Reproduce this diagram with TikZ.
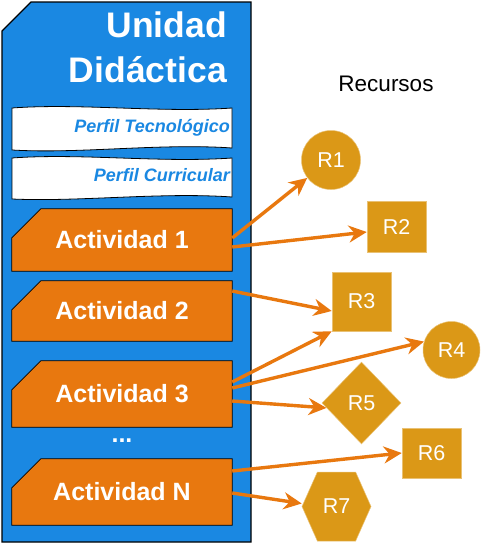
\documentclass[tikz,border=0pt]{standalone}
\usepackage{fontspec}
\setmainfont{Liberation Sans}
\usetikzlibrary{shapes.geometric,shapes.symbols,arrows.meta}
\definecolor{azulud}{RGB}{26,136,226}
\definecolor{naranja}{RGB}{232,120,15}
\definecolor{dorado}{RGB}{219,152,23}
\tikzset{
  actividad/.style={rectangle, inner sep=0pt, minimum width=220pt},
  actborde/.style={draw=black, line width=0.8pt, fill=naranja},
  acttexto/.style={text=white, inner sep=0pt, font=\bfseries\fontsize{25}{30}\selectfont},
  perfil/.style={draw=black, line width=0.8pt, fill=white},
  perfiltexto/.style={anchor=base east, inner sep=0pt, text=azulud,
    font=\bfseries\itshape\fontsize{18}{20}\selectfont},
  recurso/.style={fill=dorado, draw=dorado!60!white, line width=0.5pt, text=white,
    inner sep=0pt, font=\fontsize{21.5}{26}\selectfont},
  enlace/.style={draw=naranja, line width=3.4pt, -{Stealth[length=18pt,width=17pt]}}
}
\newcommand\cajaact[1]{\filldraw[actborde] (#1.south west) -- ([yshift=-29pt]#1.north west)
  -- ([xshift=29pt]#1.north west) -- (#1.north east) -- (#1.south east) -- cycle;}
\begin{document}
\begin{tikzpicture}[x=1pt,y=-1pt]
\useasboundingbox (0,0) rectangle (483,546);
\filldraw[draw=black, line width=1.4pt, fill=azulud] (2,542) -- (2,31) -- (31,2)
  -- (251,2) -- (251,542) -- cycle;
\node[anchor=north east, inner sep=0pt, align=right, text=white,
  font=\bfseries\fontsize{35.5}{45}\selectfont] (titulo) at (227,12) {Unidad\\Didáctica};
\draw[perfil] (12,108) .. controls (80,103) and (160,113) .. (232,108) -- (232,148)
  .. controls (160,143) and (80,154) .. (12,150) -- cycle;
\node[perfiltexto] (perfiltec) at (230,132) {Perfil Tecnológico};
\draw[perfil] (12,158) .. controls (80,153) and (160,163) .. (232,158) -- (232,197)
  .. controls (160,192) and (80,202) .. (12,199) -- cycle;
\node[perfiltexto] (perfilcur) at (230,181) {Perfil Curricular};
\node[actividad, minimum height=62pt] (act1) at (122,240) {};
\cajaact{act1}
\node[acttexto] (act1t) at (act1) {Actividad 1};
\node[actividad, minimum height=60pt] (act2) at (122,311) {};
\cajaact{act2}
\node[acttexto] (act2t) at (act2) {Actividad 2};
\node[actividad, minimum height=66pt] (act3) at (122,394) {};
\cajaact{act3}
\node[acttexto] (act3t) at (act3) {Actividad 3};
\node[acttexto] (puntos) at (122,441) {...};
\node[actividad, minimum height=66pt] (actN) at (122,492) {};
\cajaact{actN}
\node[acttexto] (actNt) at (actN) {Actividad N};
\node[font=\fontsize{22.5}{27}\selectfont, inner sep=0pt] (recursos) at (386,84) {Recursos};
\node[recurso, circle, minimum size=59pt] (r1) at (331,160) {R1};
\node[recurso, rectangle, minimum width=59pt, minimum height=51pt] (r2) at (396.5,226.5) {R2};
\node[recurso, rectangle, minimum size=59pt] (r3) at (361.5,301.5) {R3};
\node[recurso, circle, minimum size=57pt] (r4) at (451.5,350) {R4};
\node[recurso, diamond, minimum width=79pt, minimum height=82pt] (r5) at (361.5,403) {R5};
\node[recurso, rectangle, minimum width=59pt, minimum height=50pt] (r6) at (431.5,453) {R6};
\node[recurso, signal, signal to=west and east, signal pointer angle=132,
  minimum width=69pt, minimum height=69pt] (r7) at (336.5,506.5) {R7};
\draw[enlace] ([yshift=2pt]act1.east) -- (r1.217);
\draw[enlace] ([yshift=-7pt]act1.east) -- ([yshift=-5.5pt]r2.west);
\draw[enlace] ([yshift=20pt]act2.east) -- ([yshift=-9.5pt]r3.west);
\draw[enlace] ([yshift=12pt]act3.east) -- (r3.south west);
\draw[enlace] ([yshift=6pt]act3.east) -- (r4.163);
\draw[enlace] ([yshift=-7pt]act3.east) -- (r5.188);
\draw[enlace] ([yshift=21pt]actN.east) -- (r6.west);
\draw[enlace] ([yshift=-1pt]actN.east) -- ([yshift=3pt]r7.west);
\end{tikzpicture}
\end{document}
